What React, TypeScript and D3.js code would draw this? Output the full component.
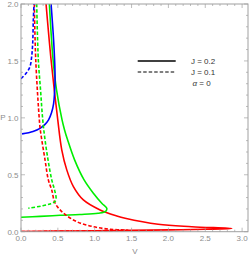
import * as React from 'react';
import { scaleLinear, line, curveCatmullRom, range } from 'd3';

type Pt = [number, number];

// [V, P]
const redSolid: Pt[] = [
  [0.34, 2.0], [0.408, 1.51], [0.499, 0.982], [0.553, 0.719], [0.621, 0.543],
  [0.711, 0.396], [0.846, 0.279], [1.073, 0.191], [1.3, 0.138], [1.413, 0.118],
  [1.861, 0.065], [2.319, 0.044], [2.86, 0.028],
  [2.5, 0.021], [2.0, 0.016], [1.5, 0.012], [1.0, 0.008], [0.5, 0.005], [0.0, 0.002],
];
const redDashed: Pt[] = [
  [0.181, 2.0], [0.2, 1.51], [0.249, 0.982], [0.262, 0.894], [0.326, 0.631],
  [0.371, 0.455], [0.417, 0.367], [0.462, 0.252], [0.575, 0.164], [0.757, 0.088],
  [0.982, 0.044], [1.209, 0.021], [1.45, 0.014],
  [1.2, 0.009], [0.8, 0.006], [0.4, 0.003], [0.0, 0.001],
];
const greenSolid: Pt[] = [
  [0.385, 2.0], [0.435, 1.51], [0.482, 1.246], [0.557, 0.982], [0.591, 0.894],
  [0.632, 0.807], [0.727, 0.631], [0.856, 0.455], [0.982, 0.338], [1.096, 0.25],
  [1.164, 0.206], [1.148, 0.178], [1.046, 0.162], [0.8, 0.151], [0.53, 0.144],
  [0.258, 0.135], [0.0, 0.127],
];
const greenDashed: Pt[] = [
  [0.213, 2.0], [0.235, 1.51], [0.265, 1.246], [0.295, 0.982], [0.326, 0.807],
  [0.367, 0.631], [0.417, 0.455], [0.455, 0.367], [0.476, 0.296], [0.462, 0.266],
  [0.394, 0.244], [0.281, 0.226], [0.099, 0.206],
];
const blueSolid: Pt[] = [
  [0.408, 2.0], [0.442, 1.686], [0.459, 1.457], [0.462, 1.334], [0.455, 1.22],
  [0.442, 1.123], [0.414, 1.044], [0.374, 0.982], [0.326, 0.943], [0.258, 0.908],
  [0.163, 0.881], [0.014, 0.859],
];
const blueDashed: Pt[] = [
  [0.0, 1.343], [0.08, 1.4], [0.122, 1.45], [0.145, 1.54], [0.159, 1.66],
  [0.167, 1.86], [0.177, 2.0],
];

const majorX = [0, 0.5, 1, 1.5, 2, 2.5, 3];
const majorY = [0, 0.5, 1, 1.5, 2];
const legendLabels = ['J = 0.2', 'J = 0.1'];

const series = [
  { data: redSolid, color: '#ff0000', dashed: false },
  { data: greenSolid, color: '#00ee00', dashed: false },
  { data: blueSolid, color: '#0000ff', dashed: false },
  { data: redDashed, color: '#ff0000', dashed: true },
  { data: greenDashed, color: '#00ee00', dashed: true },
  { data: blueDashed, color: '#0000ff', dashed: true },
];

export default function App() {
  const left = 21, right = 248, top = 4, bottom = 231.7;
  const x = scaleLinear().domain([0, 3.08]).range([left, right]);
  const y = scaleLinear().domain([0, 2]).range([bottom, top]);
  const minorX = range(0, 31).map((d) => d / 10);
  const minorY = range(0, 21).map((d) => d / 10);
  const isMajor = (v: number) => Math.abs(v * 2 - Math.round(v * 2)) < 1e-6;

  const path = line<Pt>()
    .x((d) => x(d[0]))
    .y((d) => y(d[1]))
    .curve(curveCatmullRom.alpha(0.5));

  const axisColor = '#a0a0a0';
  const labelColor = '#8c8c8c';
  const font = 'Liberation Sans, Arial, sans-serif';

  return (
    <svg width={250} height={258} style={{ position: 'absolute', left: 0, top: 0 }} fontFamily={font}>
      <rect width={250} height={258} fill="#fff" />
      <defs>
        <clipPath id="plot">
          <rect x={left} y={top} width={right - left} height={bottom - top} />
        </clipPath>
      </defs>
      <g clipPath="url(#plot)">
        {series.map((s, i) => (
          <path
            key={i}
            d={path(s.data) || ''}
            fill="none"
            stroke={s.color}
            strokeWidth={1.6}
            strokeDasharray={s.dashed ? '3.5,2' : undefined}
          />
        ))}
      </g>
      <rect x={left} y={top} width={right - left} height={bottom - top} fill="none" stroke={axisColor} strokeWidth={1} />
      {minorX.map((v) => {
        const len = isMajor(v) ? 4 : 2;
        return (
          <g key={'x' + v} stroke={axisColor} strokeWidth={0.7}>
            <line x1={x(v)} x2={x(v)} y1={bottom} y2={bottom - len} />
            <line x1={x(v)} x2={x(v)} y1={top} y2={top + len} />
          </g>
        );
      })}
      {minorY.map((v) => {
        const len = isMajor(v) ? 4 : 2;
        return (
          <g key={'y' + v} stroke={axisColor} strokeWidth={0.7}>
            <line x1={left} x2={left + len} y1={y(v)} y2={y(v)} />
            <line x1={right} x2={right - len} y1={y(v)} y2={y(v)} />
          </g>
        );
      })}
      {majorX.map((v) => (
        <text key={'xl' + v} x={x(v)} y={bottom + 9} fontSize={8} fill={labelColor} textAnchor="middle">
          {v.toFixed(1)}
        </text>
      ))}
      {majorY.map((v) => (
        <text key={'yl' + v} x={left - 2.5} y={y(v) + 3} fontSize={8} fill={labelColor} textAnchor="end">
          {v.toFixed(1)}
        </text>
      ))}
      <text x={135} y={254} fontSize={8} fill={labelColor} textAnchor="middle">V</text>
      <text x={3} y={120} fontSize={8} fill={labelColor} textAnchor="middle">P</text>

      <line x1={137.7} x2={175.7} y1={61} y2={61} stroke="#000" strokeWidth={1.5} />
      <line x1={137.7} x2={175.7} y1={72} y2={72} stroke="#000" strokeWidth={1} strokeDasharray="3.5,2" />
      {legendLabels.map((t, i) => (
        <text key={t} x={191} y={64 + i * 11} fontSize={8} fill="#333">{t}</text>
      ))}
      <text x={192.5} y={86} fontSize={8} fill="#333">
        <tspan fontStyle="italic">α</tspan> = 0
      </text>
    </svg>
  );
}
